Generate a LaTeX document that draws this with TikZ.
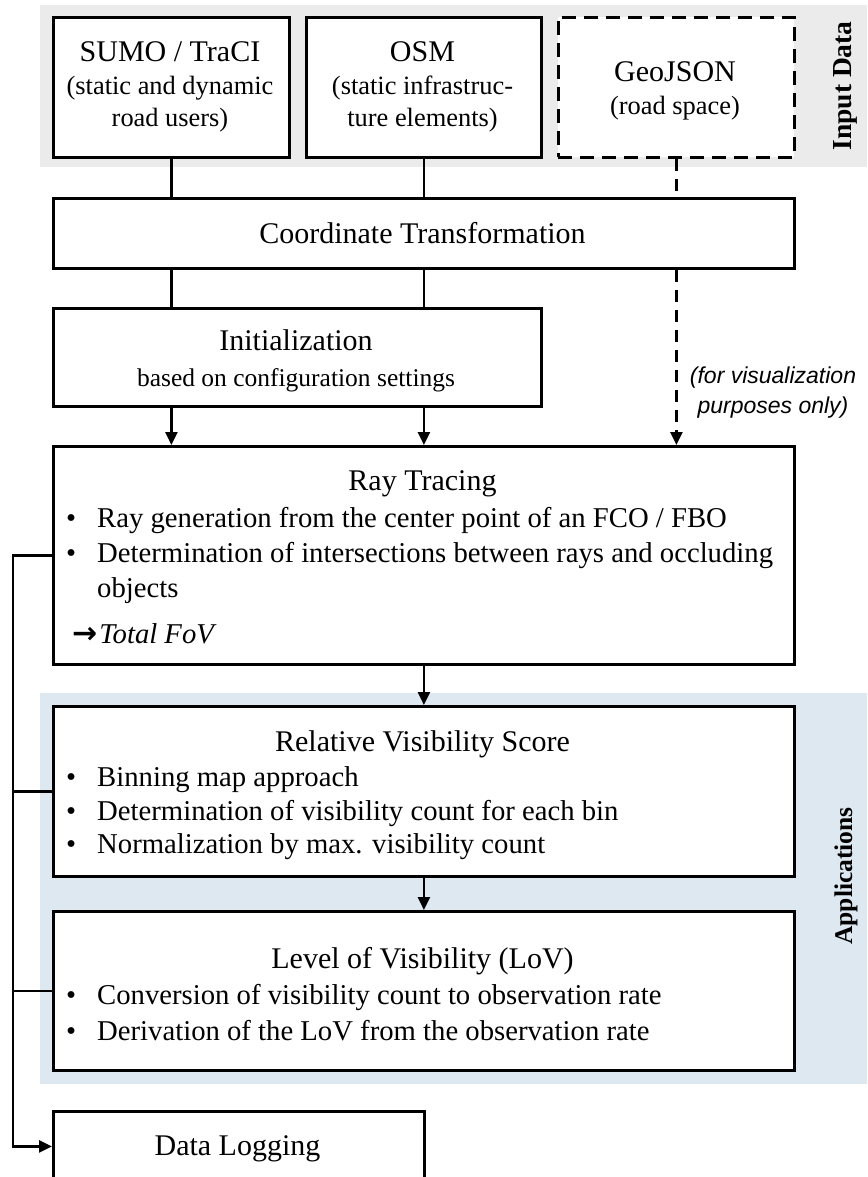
\documentclass[tikz,border=0pt]{standalone}
\usepackage{fontspec}
\setmainfont{Liberation Serif}
\newfontfamily\arialfont{Liberation Sans}
\newfontfamily\symfont{DejaVu Sans}
\usetikzlibrary{arrows.meta}
\definecolor{inputgray}{HTML}{EBEBEB}
\definecolor{appblue}{HTML}{DDE8F1}
\tikzset{
  boxframe/.style={draw=black, line width=2.8pt, fill=white, inner sep=0pt, anchor=north west},
  dashframe/.style={boxframe, dash pattern=on 14pt off 8pt},
  conn/.style={line width=2.5pt},
  arr/.style={conn, -{Triangle[length=13pt,width=12pt]}},
  dashconn/.style={conn, dash pattern=on 12pt off 8pt},
  dasharr/.style={dashconn, -{Triangle[length=13pt,width=12pt]}},
  ttl/.style={font=\fontsize{30}{34}\selectfont, inner sep=0pt, anchor=base},
  sub/.style={font=\fontsize{26.4}{30}\selectfont, inner sep=0pt, anchor=base},
  itm/.style={font=\fontsize{28.7}{32}\selectfont, inner sep=0pt, anchor=base west},
  side/.style={font=\bfseries\fontsize{27.5}{32}\selectfont, inner sep=0pt, rotate=90},
  note/.style={font=\arialfont\itshape\fontsize{23}{30}\selectfont, inner sep=0pt, anchor=base}
}
\begin{document}
\begin{tikzpicture}[x=1pt,y=-1pt]
\useasboundingbox (0,0) rectangle (867,1177);
\clip (0,0) rectangle (867,1177);
% background bands
\fill[inputgray] (40,5) rectangle (867,167);
\fill[appblue] (40,693) rectangle (867,1084);
\node[side] (inlab) at (845,86) {Input Data};
\node[side, font=\bfseries\fontsize{25.5}{30}\selectfont] (applab) at (846,876) {Applications};
% boxes
\node[boxframe, minimum width=236pt, minimum height=140pt] (sumo) at (52,16) {};
\node[boxframe, minimum width=235pt, minimum height=140pt] (osm) at (305,16) {};
\node[dashframe, minimum width=236pt, minimum height=140pt] (geo) at (557,16) {};
\node[boxframe, minimum width=741pt, minimum height=70pt] (coord) at (52,197) {};
\node[boxframe, minimum width=488pt, minimum height=98pt] (init) at (52,307) {};
\node[boxframe, minimum width=741pt, minimum height=218pt] (ray) at (52,445) {};
\node[boxframe, minimum width=741pt, minimum height=170pt] (rvs) at (52,705) {};
\node[boxframe, minimum width=741pt, minimum height=159pt] (lov) at (52,910) {};
\node[boxframe, minimum width=371pt, minimum height=70pt] (data) at (52,1110) {};
% texts: input boxes
\node[ttl] (t1) at (170,62) {SUMO / TraCI};
\node[sub] (t2) at (170,95) {(static and dynamic};
\node[sub] (t3) at (170,127) {road users)};
\node[ttl] (t4) at (422.5,62) {OSM};
\node[sub] (t5) at (422.5,95) {(static infrastruc-};
\node[sub] (t6) at (422.5,127) {ture elements)};
\node[ttl] (t7) at (675,82) {GeoJSON};
\node[sub] (t8) at (675,115) {(road space)};
\node[ttl] (t9) at (422.5,243) {Coordinate Transformation};
\node[ttl] (t10) at (296,350) {Initialization};
\node[sub, font=\fontsize{25.5}{30}\selectfont] (t11) at (296,386) {based on configuration settings};
\node[note] (n1) at (773,383) {(for visualization};
\node[note] (n2) at (773,413) {purposes only)};
% ray tracing
\node[ttl] (r0) at (422.5,490) {Ray Tracing};
\node[itm] (rb1) at (66,527) {•};
\node[itm] (r1) at (97,527) {Ray generation from the center point of an FCO / FBO};
\node[itm] (rb2) at (66,562) {•};
\node[itm] (r2) at (97,562) {Determination of intersections between rays and occluding};
\node[itm] (r3) at (97,597) {objects};
\node[itm] (r4) at (72,643) {{\symfont\bfseries\fontsize{30}{30}\selectfont →}\kern2pt\textit{Total FoV}};
% relative visibility score
\node[ttl] (s0) at (422.5,751) {Relative Visibility Score};
\node[itm] (sb1) at (66,786) {•};
\node[itm] (s1) at (97,786) {Binning map approach};
\node[itm] (sb2) at (66,820) {•};
\node[itm] (s2) at (97,820) {Determination of visibility count for each bin};
\node[itm] (sb3) at (66,853) {•};
\node[itm] (s3) at (97,853) {Normalization by max. visibility count};
% level of visibility
\node[ttl] (l0) at (422.5,968) {Level of Visibility (LoV)};
\node[itm] (lb1) at (66,1004) {•};
\node[itm] (l1) at (97,1004) {Conversion of visibility count to observation rate};
\node[itm] (lb2) at (66,1040) {•};
\node[itm] (l2) at (97,1040) {Derivation of the LoV from the observation rate};
% data logging
\node[ttl] (d0) at (237.5,1155) {Data Logging};
% connectors
\coordinate (bus) at (13,0);
\draw[conn] (sumo.south) -- (coord.north -| sumo.south);
\draw[conn] (osm.south) -- (coord.north -| osm.south);
\draw[dashconn] (geo.south) -- (coord.north -| geo.south);
\draw[conn] (coord.south -| sumo.south) -- (init.north -| sumo.south);
\draw[conn] (coord.south -| osm.south) -- (init.north -| osm.south);
\draw[arr] (init.south -| sumo.south) -- (ray.north -| sumo.south);
\draw[arr] (init.south -| osm.south) -- (ray.north -| osm.south);
\draw[dasharr] (coord.south -| geo.south) -- (ray.north -| geo.south);
\draw[arr] (ray.south -| osm.south) -- (rvs.north -| osm.south);
\draw[arr] (rvs.south -| osm.south) -- (lov.north -| osm.south);
\draw[arr] (ray.west) -- (ray.west -| bus) |- (data.west);
\draw[conn] (rvs.west) -- (rvs.west -| bus);
\draw[conn] (lov.west) -- (lov.west -| bus);
\end{tikzpicture}
\end{document}
